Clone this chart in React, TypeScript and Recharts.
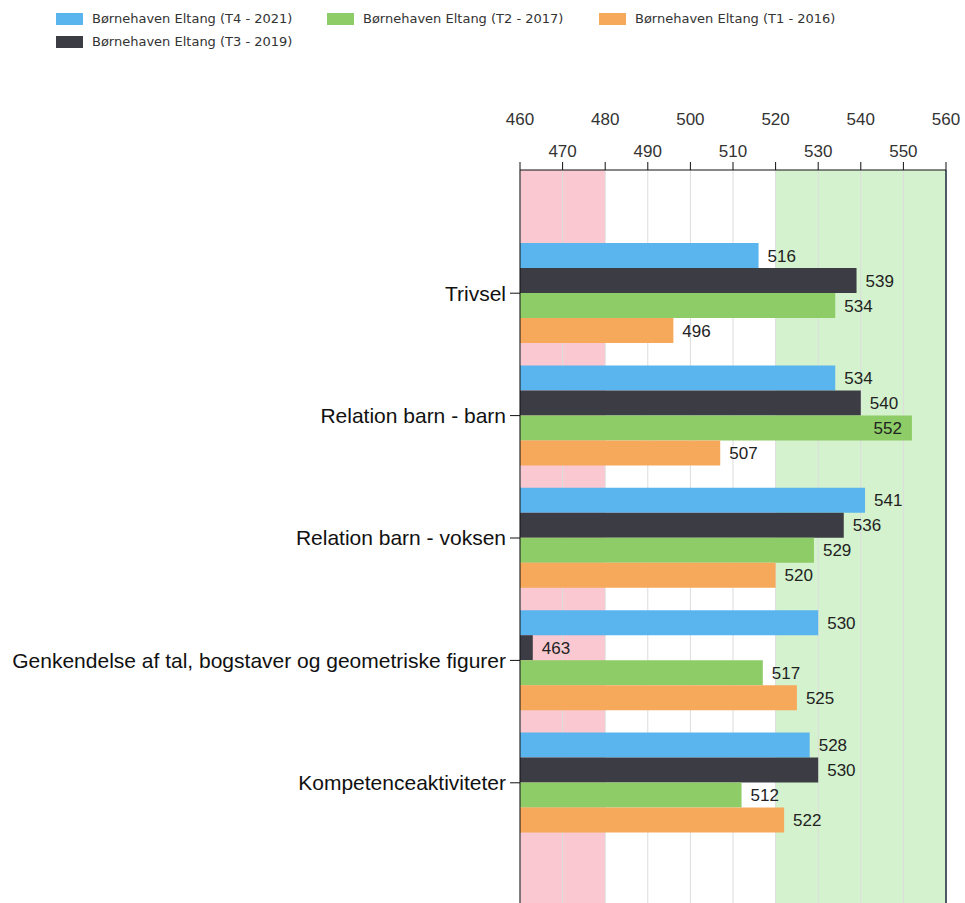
import { FC } from "react";
import {
  BarChart,
  Bar,
  XAxis,
  YAxis,
  CartesianGrid,
  ReferenceLine,
  LabelList,
} from "recharts";

const categories = [
  "Trivsel",
  "Relation barn - barn",
  "Relation barn - voksen",
  "Genkendelse af tal, bogstaver og geometriske figurer",
  "Kompetenceaktiviteter",
];
const t4 = [516, 534, 541, 530, 528];
const t3 = [539, 540, 536, 463, 530];
const t2 = [534, 552, 529, 517, 512];
const t1 = [496, 507, 520, 525, 522];
const xTicks = [460, 470, 480, 490, 500, 510, 520, 530, 540, 550, 560];

const SERIES = [
  { key: "t4", name: "Børnehaven Eltang (T4 - 2021)", color: "#5ab4ee" },
  { key: "t3", name: "Børnehaven Eltang (T3 - 2019)", color: "#3c3c44" },
  { key: "t2", name: "Børnehaven Eltang (T2 - 2017)", color: "#8dcc66" },
  { key: "t1", name: "Børnehaven Eltang (T1 - 2016)", color: "#f6a95a" },
];

// background strips between the 10-unit grid lines: red zone 460-480, green zone 520-560
const PINK = "#f9c8d0";
const GREEN = "#d4f2ce";
const stripFills = [PINK, PINK, "#fff", "#fff", "#fff", "#fff", GREEN, GREEN, GREEN, GREEN, "none"];

const data = categories.map((name, i) => ({
  name,
  t4: t4[i],
  t3: t3[i],
  t2: t2[i],
  t1: t1[i],
}));

// staggered tick labels on the top axis
const TopTick = (props: any) => {
  const { x, y, payload } = props;
  const odd = ((payload.value - 460) / 10) % 2 === 1;
  return (
    <text
      x={x}
      y={odd ? y - 3 : y - 35}
      textAnchor="middle"
      fontSize={17}
      fontFamily="Liberation Sans, Arial, sans-serif"
      fill="#333"
    >
      {payload.value}
    </text>
  );
};

const ValueLabel = (props: any) => {
  const { x, y, width, height, value } = props;
  const inside = value > 548;
  return (
    <text
      x={inside ? x + width - 10 : x + width + 9}
      y={y + height / 2 + 6}
      textAnchor={inside ? "end" : "start"}
      fontSize={17}
      fontFamily="Liberation Sans, Arial, sans-serif"
      fill="#222"
    >
      {value}
    </text>
  );
};

const legendRows = [
  [
    { s: SERIES[0], left: 56 },
    { s: SERIES[2], left: 327 },
    { s: SERIES[3], left: 599 },
  ],
  [{ s: SERIES[1], left: 56 }],
];

const App: FC = () => {
  return (
    <div
      style={{
        position: "fixed",
        top: 0,
        left: 0,
        width: 965,
        height: 903,
        overflow: "hidden",
        background: "#fff",
      }}
    >
      {legendRows.map((row, r) =>
        row.map(({ s, left }) => (
          <div
            key={s.key}
            style={{
              position: "absolute",
              left,
              top: 11 + r * 23,
              display: "flex",
              alignItems: "center",
              fontFamily: "DejaVu Sans, sans-serif",
              fontSize: 13,
              color: "#333",
              whiteSpace: "nowrap",
            }}
          >
            <span
              style={{
                display: "inline-block",
                width: 27,
                height: 12,
                background: s.color,
                marginRight: 9,
              }}
            />
            {s.name}
          </div>
        ))
      )}
      <div style={{ position: "absolute", top: 0, left: 0 }}>
        <BarChart
          width={965}
          height={910}
          data={data}
          layout="vertical"
          margin={{ top: 100, right: 19, bottom: 0, left: 0 }}
          barCategoryGap={11}
          barGap={0}
        >
          <CartesianGrid
            horizontal={false}
            stroke="#dcdcdc"
            verticalFill={stripFills}
            fillOpacity={1}
          />
          <XAxis
            type="number"
            orientation="top"
            domain={[460, 560]}
            ticks={xTicks}
            allowDataOverflow
            height={70}
            tickSize={8}
            tickMargin={2}
            tick={<TopTick />}
            stroke="#111"
          />
          <YAxis
            type="category"
            dataKey="name"
            width={520}
            padding={{ top: 62, bottom: 66 }}
            tickSize={10}
            tickMargin={4}
            stroke="#111"
            tick={{
              fontSize: 21,
              fill: "#111",
              fontFamily: "Liberation Sans, Arial, sans-serif",
            }}
          />
          <ReferenceLine x={560} stroke="#1c2a3a" strokeWidth={1.5} />
          {SERIES.map((s) => (
            <Bar
              key={s.key}
              dataKey={s.key}
              name={s.name}
              fill={s.color}
              isAnimationActive={false}
            >
              <LabelList dataKey={s.key} content={<ValueLabel />} />
            </Bar>
          ))}
        </BarChart>
      </div>
    </div>
  );
};

export default App;
